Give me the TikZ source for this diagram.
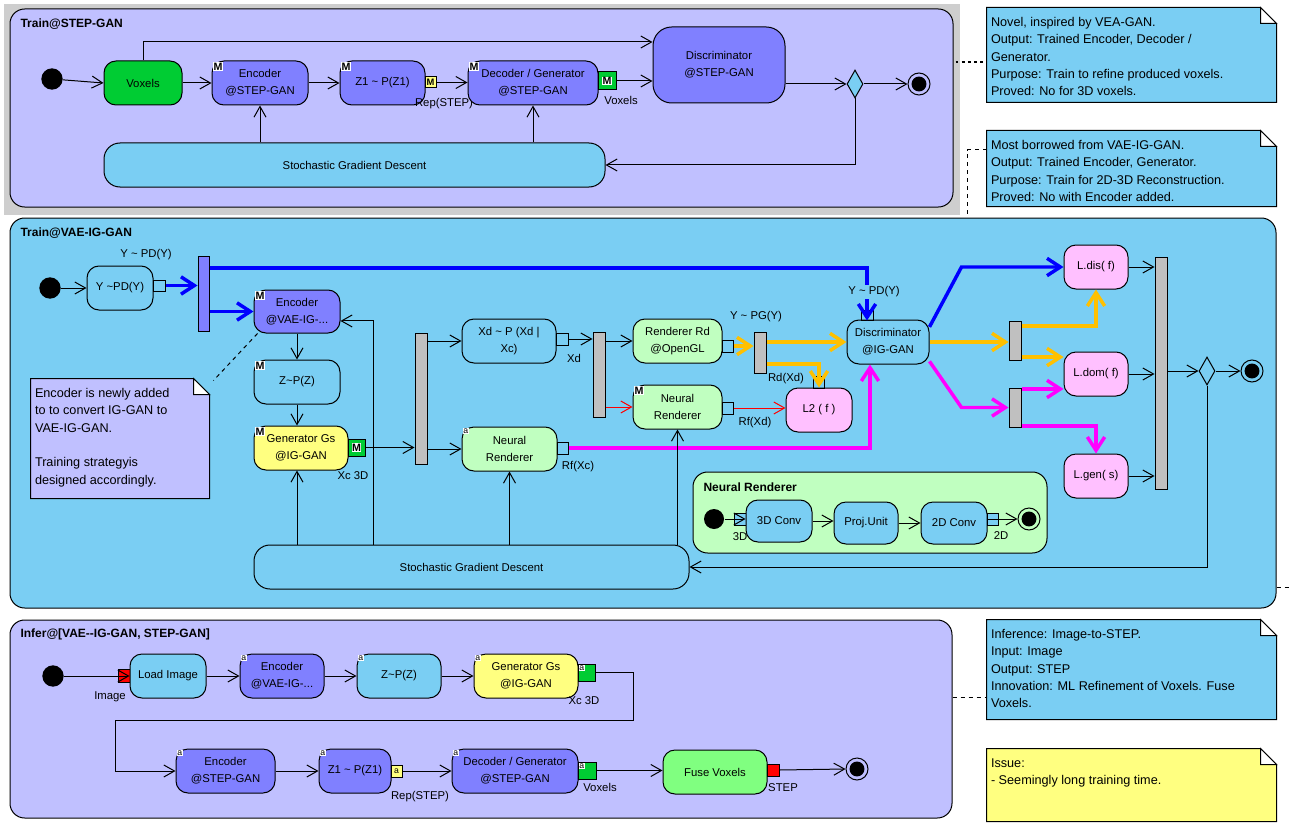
\documentclass[tikz,border=0pt]{standalone}
\usepackage{fontspec}
\setmainfont{Liberation Sans}
\usetikzlibrary{arrows.meta,shapes.geometric}

\definecolor{lav}{RGB}{192,192,255}
\definecolor{sky}{RGB}{122,206,243}
\definecolor{actblue}{RGB}{128,128,255}
\definecolor{yel}{RGB}{255,255,128}
\definecolor{lgreen}{RGB}{192,255,192}
\definecolor{pinkf}{RGB}{255,192,255}
\definecolor{vgreen}{RGB}{0,204,51}
\definecolor{fgreen}{RGB}{128,255,128}
\definecolor{barg}{RGB}{192,192,192}
\definecolor{bgray}{RGB}{206,206,206}
\definecolor{orng}{RGB}{255,192,0}
\definecolor{magn}{RGB}{255,0,255}
\definecolor{blu}{RGB}{0,0,255}

\newcommand\nodefont{\fontsize{8.5}{12.5}\selectfont}
\newcommand\tild{\textasciitilde}
% box from pixel corners (x1,y1)-(x2,y2)
\newcommand\putbox[7]{\node[#6, minimum width={(#4-#2)*0.75pt}, minimum height={(#5-#3)*0.75pt}] (#1) at ({(#2+#4)/2},{(#3+#5)/2}) {#7};}
% note outline with folded corner
\newcommand\notepath[2]{%
  \draw[fill=#2] (#1.north west) -- ([xshift=-12pt]#1.north east) -- ([yshift=-12pt]#1.north east) -- (#1.south east) -- (#1.south west) -- cycle;
  \draw[fill=white] ([xshift=-12pt]#1.north east) -- ([xshift=-12pt,yshift=-12pt]#1.north east) -- ([yshift=-12pt]#1.north east) -- cycle;}
\newcommand\mb[2]{\node[mbadge] (#1) at ([shift={(0.8pt,-1pt)}]#2.north west) {M};}
\newcommand\ab[2]{\node[abadge] (#1) at ([shift={(0.8pt,-0.8pt)}]#2.north west) {a};}

\tikzset{
  act/.style={draw, rounded corners=9pt, inner sep=1pt, align=center, font=\nodefont},
  bar/.style={draw, fill=barg, inner sep=0pt},
  pinb/.style={draw, inner sep=0pt},
  lbl/.style={font=\nodefont, inner sep=0pt},
  ttl/.style={font=\bfseries\fontsize{9}{10}\selectfont, anchor=west, inner sep=0pt},
  panel/.style={draw, rounded corners=11pt, inner sep=0pt},
  initn/.style={circle, fill=black, minimum size=16pt, inner sep=0pt},
  finaln/.style={circle, draw, minimum size=16.5pt, inner sep=0pt,
    path picture={\fill[black] (path picture bounding box.center) circle (5.6pt);}},
  decn/.style={diamond, draw, fill=sky, minimum width=12pt, minimum height=21pt, inner sep=0pt},
  arr/.style={-{Straight Barb[length=8pt,width=9pt]}, line width=0.75pt},
  fat/.style={-{Straight Barb[length=10pt,width=13pt]}, line width=2.6pt},
  mbadge/.style={fill=white, inner sep=0.4pt, font=\bfseries\fontsize{8}{8}\selectfont, anchor=north west},
  abadge/.style={fill=white, inner sep=0.3pt, font=\fontsize{6.5}{6.5}\selectfont, anchor=north west},
  notebg/.style={inner sep=0pt},
  notetext/.style={align=left, anchor=north west, inner sep=0pt, font=\fontsize{9.5}{13}\selectfont},
  lnk/.style={line width=0.75pt, dash pattern=on 3pt off 3pt},
}

\begin{document}
\begin{tikzpicture}[x=0.75pt, y=-0.75pt, line width=0.75pt]
\useasboundingbox (0,0) rectangle (1291,831);

% ---------------- Train@STEP-GAN ----------------
\putbox{stepbg}{4}{4}{960}{215}{fill=bgray, inner sep=0pt}{}
\putbox{pstep}{10}{9}{953}{207}{panel, fill=lav}{}
\node[ttl] (tstep) at (20,24) {Train@STEP-GAN};

\node[initn] (i1) at (52,79) {};
\putbox{vox}{104}{61}{182}{105}{act, fill=vgreen}{Voxels}
\putbox{enc1}{212}{61}{308}{105}{act, fill=actblue}{Encoder\\@STEP-GAN}
\putbox{zone}{340}{61}{425}{105}{act, fill=actblue}{Z1 \tild{} P(Z1)}
\putbox{pzone}{425}{77}{436}{88}{pinb, fill=yel, font=\bfseries\fontsize{7}{7}\selectfont}{M}
\node[lbl] (lzone) at (444,104) {Rep(STEP)};
\putbox{dec1}{468}{61}{598}{105}{act, fill=actblue}{Decoder / Generator\\@STEP-GAN}
\putbox{pdec1}{598}{72}{616}{90}{pinb, fill=vgreen}{}
\node[mbadge, anchor=center] (mdec1) at (pdec1.center) {M};
\node[lbl] (ldec1) at (621,100) {Voxels};
\putbox{disc1}{653}{27}{785}{103}{act, fill=actblue, rounded corners=14pt}{Discriminator\\@STEP-GAN}
\node[decn] (d1) at (855,84) {};
\node[finaln] (f1) at (919,84) {};
\putbox{sgd1}{104}{143}{605}{187}{act, fill=sky, rounded corners=12pt}{Stochastic Gradient Descent}
\mb{menc1}{enc1}
\mb{mzone}{zone}
\mb{mdecone}{dec1}

\draw[arr] (i1) -- (vox.west);
\draw[arr] (vox.north) |- ([yshift=17.25pt]disc1.west);
\draw[arr] (vox.east) -- (enc1.west);
\draw[arr] (enc1.east) -- (zone.west);
\draw[arr] (pzone.east) -- (dec1.west |- pzone.east);
\draw[arr] (pdec1.east) -- (disc1.west |- pdec1.east);
\draw[arr] (disc1.east |- d1.west) -- (d1.west);
\draw[arr] (d1.east) -- (f1.west);
\draw[arr] (d1.south) |- (sgd1.east);
\draw[arr] (enc1.south |- sgd1.north) -- (enc1.south);
\draw[arr] (dec1.south |- sgd1.north) -- (dec1.south);

% ---------------- Train@VAE-IG-GAN ----------------
\putbox{pvae}{10}{218}{1276}{608}{panel, fill=sky}{}
\node[ttl] (tvae) at (20,233) {Train@VAE-IG-GAN};

\node[initn] (i2) at (50,288) {};
\putbox{ypd}{87}{266}{153}{310}{act}{Y \tild{}PD(Y)}
\putbox{pypd}{153}{280}{165}{291}{pinb}{}
\node[lbl] (lypd) at (146,255) {Y \tild{} PD(Y)};
\putbox{fk1}{198}{256}{209}{331}{bar, fill=actblue}{}
\putbox{enc2}{254}{290}{340}{333}{act, fill=actblue}{Encoder\\@VAE-IG-...}
\putbox{zp}{254}{360}{340}{404}{act}{Z\tild{}P(Z)}
\putbox{gen2}{254}{426}{348}{470}{act, fill=yel}{Generator Gs\\@IG-GAN}
\putbox{pgen2}{348}{439}{365}{456}{pinb, fill=vgreen}{}
\node[mbadge, anchor=center] (mgen2p) at (pgen2.center) {M};
\node[lbl] (lgen2) at (353,476) {Xc 3D};
\mb{menc2}{enc2}
\mb{mzp}{zp}
\mb{mgen2}{gen2}

\putbox{nenc}{31}{379}{209}{498}{notebg}{}
\notepath{nenc}{lav}
\node[notetext] (nenct) at ([shift={(3pt,-7pt)}]nenc.north west)
  {Encoder is newly added\\to to convert IG-GAN to\\VAE-IG-GAN.\\[13pt]Training strategyis\\designed accordingly.};

\putbox{fk2}{415}{333}{427}{464}{bar}{}
\putbox{xdp}{462}{319}{556}{363}{act}{Xd \tild{} P (Xd |\\Xc)}
\putbox{pxdp}{556}{333}{568}{345}{pinb}{}
\node[lbl] (lxd) at (574,358) {Xd};
\putbox{fk3}{593}{332}{605}{417}{bar}{}
\putbox{rrd}{633}{319}{722}{363}{act, fill=lgreen}{Renderer Rd\\@OpenGL}
\putbox{prrd}{722}{340}{733}{352}{pinb}{}
\putbox{fk4}{754}{332}{766}{373}{bar}{}
\node[lbl] (lypg) at (756,317) {Y \tild{} PG(Y)};
\node[lbl] (lrd) at (786,379) {Rd(Xd)};
\putbox{nrm}{633}{385}{722}{429}{act, fill=lgreen}{Neural\\Renderer}
\mb{mnrm}{nrm}
\putbox{pnrm}{722}{402}{733}{414}{pinb}{}
\node[lbl] (lrfxd) at (755,423) {Rf(Xd)};
\putbox{ltwo}{786}{388}{852}{432}{act, fill=pinkf}{L2 ( f )}
\putbox{pltwo}{813}{376}{824}{388}{pinb}{}
\putbox{nra}{462}{427}{557}{471}{act, fill=lgreen}{Neural\\Renderer}
\ab{anra}{nra}
\putbox{pnra}{557}{442}{568}{454}{pinb}{}
\node[lbl] (lrfxc) at (578,467) {Rf(Xc)};
\putbox{disc2}{847}{320}{929}{364}{act}{Discriminator\\@IG-GAN}
\putbox{pdisc2}{861}{310}{873}{320}{pinb}{}
\putbox{fk5}{1009}{321}{1021}{360}{bar}{}
\putbox{fk6}{1009}{388}{1021}{427}{bar}{}
\putbox{ldis}{1064}{245}{1128}{289}{act, fill=pinkf}{L.dis( f)}
\putbox{ldom}{1064}{352}{1128}{396}{act, fill=pinkf}{L.dom( f)}
\putbox{lgen}{1064}{454}{1128}{498}{act, fill=pinkf}{L.gen( s)}
\putbox{jb}{1155}{257}{1167}{489}{bar}{}
\node[decn] (d2) at (1207,371) {};
\node[finaln] (f2) at (1252,371) {};
\putbox{sgd2}{254}{545}{689}{589}{act, rounded corners=12pt}{Stochastic Gradient Descent}
\coordinate (tap) at (373,545);

% Neural Renderer sub-activity
\putbox{pnr}{693}{472}{1047}{553}{panel, fill=lgreen}{}
\node[ttl] (tnr) at (703,487) {Neural Renderer};
\node[initn, minimum size=15pt] (i3) at (714,519) {};
\putbox{p3d}{734}{513}{746}{525}{pinb, fill=sky}{}
\node[lbl] (l3d) at (740,537) {3D};
\putbox{cthree}{746}{500}{812}{542}{act, fill=sky}{3D Conv}
\putbox{proj}{834}{502}{898}{544}{act, fill=sky}{Proj.Unit}
\putbox{ctwo}{921}{502}{987}{544}{act, fill=sky}{2D Conv}
\putbox{p2d}{987}{513}{998}{525}{pinb, fill=sky}{}
\node[lbl] (l2d) at (1001,536) {2D};
\node[finaln] (f3) at (1029,519) {};

\draw[arr] (i2) -- (ypd.west);
\draw[fat, blu] (pypd.east) -- (fk1.west |- pypd.east);
\draw[fat, blu] (fk1.east |- enc2.west) -- (enc2.west);
\draw[fat, blu] ([yshift=19.1pt]fk1.east) -| (pdisc2.south);
\node[lbl, fill=sky, inner sep=1pt] (lypd2) at (874,292) {Y \tild{} PD(Y)};
\draw[arr] (enc2.south) -- (zp.north);
\draw[arr] (zp.south) -- (zp.south |- gen2.north);
\draw[lnk] ([xshift=3pt]enc2.south west) -- ([xshift=3pt,yshift=-1.5pt]nenc.north east);
\draw[arr] (pgen2.east) -- (fk2.west |- pgen2.east);
\draw[arr] (tap) |- ([yshift=-7.1pt]enc2.east);
\draw[arr] (fk2.east |- xdp.west) -- (xdp.west);
\draw[arr] (fk2.east |- nra.west) -- (nra.west);
\draw[arr] (pxdp.east) -- (fk3.west |- pxdp.east);
\draw[arr] (fk3.east |- rrd.west) -- (rrd.west);
\draw[arr, red] (fk3.east |- nrm.west) -- (nrm.west);
\draw[fat, orng] (prrd.east) -- (fk4.west |- prrd.east);
\draw[fat, orng] (fk4.east |- disc2.west) -- (disc2.west);
\draw[fat, orng] ([yshift=-8.6pt]fk4.east) -| (ltwo.north);
\draw[arr, red] (pnrm.east) -- (ltwo.west |- pnrm.east);
\draw[fat, magn] (pnra.east) -| ([xshift=-13.5pt]disc2.south);
\draw[fat, blu] (disc2.20) -- ([xshift=-76.5pt]ldis.west) -- (ldis.west);
\draw[fat, orng] (disc2.east) -- (fk5.west |- disc2.east);
\draw[fat, orng] ([yshift=10.9pt]fk5.east) -| (ldis.south);
\coordinate (oa) at ([yshift=-12.4pt]fk5.east);
\draw[fat, orng] (oa) -- (oa -| ldom.west);
\draw[fat, magn] (disc2.-25) -- ([xshift=-35.25pt]fk6.west) -- (fk6.west);
\coordinate (ob) at ([yshift=13.9pt]fk6.east);
\draw[fat, magn] (ob) -- (ob -| ldom.west);
\coordinate (oc) at ([yshift=-13.9pt]fk6.east);
\draw[fat, magn] (oc) -| (lgen.north);
\draw[arr] (ldis.east) -- (jb.west |- ldis.east);
\draw[arr] (ldom.east) -- (jb.west |- ldom.east);
\draw[arr] (lgen.east) -- (jb.west |- lgen.east);
\draw[arr] (jb.east |- d2.west) -- (d2.west);
\draw[arr] (d2.east) -- (f2.west);
\draw[arr] (d2.south) |- (sgd2.east);
\draw[arr] (zp.south |- sgd2.north) -- (zp.south |- gen2.south);
\draw[arr] (nra.south |- sgd2.north) -- (nra.south);
\draw[arr] (nrm.south |- sgd2.north) -- (nrm.south);

\draw[arr] (i3) -- (cthree.west |- i3);
\draw[arr] (cthree.east) -- (proj.west |- cthree.east);
\draw[arr] (proj.east) -- (ctwo.west |- proj.east);
\draw[arr] (ctwo.east |- f3) -- (f3.west);

% ---------------- Infer ----------------
\putbox{pinf}{10}{620}{952}{818}{panel, fill=lav}{}
\node[ttl] (tinf) at (20,634) {Infer@[VAE-{}-IG-GAN, STEP-GAN]};
\node[initn] (i4) at (53,676) {};
\putbox{pimg}{118}{669}{130}{682}{pinb, fill=red}{}
\node[lbl] (limg) at (110,697) {Image};
\putbox{load}{130}{654}{206}{698}{act, fill=sky}{Load Image}
\putbox{encb}{240}{654}{324}{698}{act, fill=actblue}{Encoder\\@VAE-IG-...}
\putbox{zb}{357}{654}{441}{698}{act, fill=sky}{Z\tild{}P(Z)}
\putbox{genb}{474}{654}{578}{698}{act, fill=yel}{Generator Gs\\@IG-GAN}
\putbox{pgenb}{578}{664}{595}{681}{pinb, fill=vgreen}{}
\ab{apgenb}{pgenb}
\node[lbl] (lxcb) at (584,701) {Xc 3D};
\coordinate (wr) at (633,720);
\coordinate (wl) at (115,720);
\putbox{encsb}{176}{749}{275}{793}{act, fill=actblue}{Encoder\\@STEP-GAN}
\putbox{zoneb}{319}{749}{391}{793}{act, fill=actblue}{Z1 \tild{} P(Z1)}
\putbox{pzoneb}{391}{765}{402}{777}{pinb, fill=yel, font=\fontsize{6.5}{6.5}\selectfont}{a}
\node[lbl] (lrepb) at (420,797) {Rep(STEP)};
\putbox{decb}{452}{749}{578}{793}{act, fill=actblue}{Decoder / Generator\\@STEP-GAN}
\putbox{pdecb}{578}{762}{596}{779}{pinb, fill=vgreen}{}
\ab{apdecb}{pdecb}
\node[lbl] (lvoxb) at (600,787) {Voxels};
\putbox{fuse}{663}{750}{767}{794}{act, fill=fgreen}{Fuse Voxels}
\putbox{pfuse}{767}{764}{779}{776}{pinb, fill=red}{}
\node[lbl] (lstep) at (783,788) {STEP};
\node[finaln] (f4) at (857,769) {};
\ab{aencb}{encb}
\ab{azb}{zb}
\ab{agenb}{genb}
\ab{aencsb}{encsb}
\ab{azoneb}{zoneb}
\ab{adecb}{decb}

\draw[arr] (i4) -- (load.west);
\draw[arr] (load.east) -- (encb.west);
\draw[arr] (encb.east) -- (zb.west);
\draw[arr] (zb.east) -- (genb.west);
\draw[arr] (pgenb.east) -| (wr) -- (wl) |- (encsb.west);
\draw[arr] (encsb.east) -- (zoneb.west);
\draw[arr] (pzoneb.east) -- (decb.west |- pzoneb.east);
\draw[arr] (pdecb.east) -- (fuse.west |- pdecb.east);
\draw[arr] (pfuse.east) -- (f4.west);

% ---------------- notes ----------------
\putbox{nA}{987}{8}{1276}{102}{notebg}{}
\notepath{nA}{sky}
\node[notetext] (nAt) at ([shift={(3pt,-7pt)}]nA.north west)
  {Novel, inspired by VEA-GAN.\\Output: Trained Encoder, Decoder /\\Generator.\\Purpose: Train to refine produced voxels.\\Proved: No for 3D voxels.};
\putbox{nB}{987}{131}{1276}{206}{notebg}{}
\notepath{nB}{sky}
\node[notetext] (nBt) at ([shift={(3pt,-7pt)}]nB.north west)
  {Most borrowed from VAE-IG-GAN.\\Output: Trained Encoder, Generator.\\Purpose: Train for 2D-3D Reconstruction.\\Proved: No with Encoder added.};
\putbox{nC}{987}{620}{1276}{719}{notebg}{}
\notepath{nC}{sky}
\node[notetext] (nCt) at ([shift={(3pt,-7pt)}]nC.north west)
  {Inference: Image-to-STEP.\\Input: Image\\Output: STEP\\Innovation: ML Refinement of Voxels. Fuse\\Voxels.};
\putbox{nD}{987}{749}{1276}{821}{notebg}{}
\notepath{nD}{yel}
\node[notetext] (nDt) at ([shift={(3pt,-7pt)}]nD.north west)
  {Issue:\\- Seemingly long training time.};

\coordinate (la) at ([yshift=34.5pt]pstep.east);
\draw[line width=2.2pt, dash pattern=on 2.2pt off 2.4pt] ([xshift=1.5pt]la) -- (la -| nA.west);
\coordinate (lb) at ([yshift=13.9pt]nB.west);
\draw[lnk] (lb) -| ([xshift=243pt]pvae.north);
\coordinate (offr) at (1291,587);
\draw[lnk] ([yshift=-130.5pt]pvae.east) -- (offr);
\coordinate (lc) at ([yshift=16.5pt]pinf.east);
\draw[lnk] (lc) -- (lc -| nC.west);
\end{tikzpicture}
\end{document}
